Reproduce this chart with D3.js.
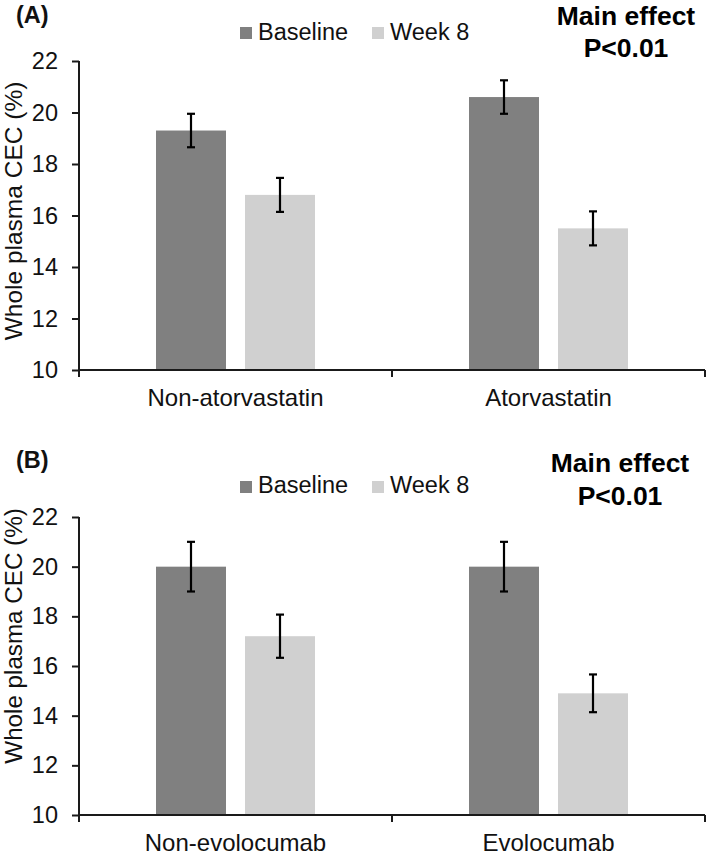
<!DOCTYPE html>
<html>
<head>
<meta charset="utf-8">
<script src="https://cdn.jsdelivr.net/npm/d3@7"></script>
<style>
  html, body { margin: 0; padding: 0; background: #fff; }
  svg { display: block; font-family: "Liberation Sans", Arial, sans-serif; }
</style>
</head>
<body>
<svg id="chart" width="709" height="860"></svg>
<script>
// ---- Data ----
const series = ["Baseline", "Week 8"];
const seriesColors = ["#808080", "#d0d0d0"];
const yTicks = [10, 12, 14, 16, 18, 20, 22];

const categoriesA = ["Non-atorvastatin", "Atorvastatin"];
const baselineA = [19.3, 20.6];
const week8A = [16.8, 15.5];
const baselineErrA = [0.65, 0.65];
const week8ErrA = [0.66, 0.66];

const categoriesB = ["Non-evolocumab", "Evolocumab"];
const baselineB = [20.0, 20.0];
const week8B = [17.2, 14.9];
const baselineErrB = [1.0, 1.0];
const week8ErrB = [0.87, 0.76];

const panelLabels = ["(A)", "(B)"];
const annotation = ["Main effect", "P<0.01"];
const yLabel = "Whole plasma CEC (%)";

// ---- Layout ----
const svg = d3.select("#chart");
const panels = [
  { cats: categoriesA, vals: [baselineA, week8A], errs: [baselineErrA, week8ErrA],
    label: panelLabels[0], top: 61, bottom: 370, labelY: 23, legendY: 27, legendTextY: 40,
    annX: 626, annY1: 25, annY2: 57, yLabelC: 211, yLabelSize: 24.5 },
  { cats: categoriesB, vals: [baselineB, week8B], errs: [baselineErrB, week8ErrB],
    label: panelLabels[1], top: 517, bottom: 815, labelY: 468, legendY: 481, legendTextY: 493,
    annX: 620, annY1: 472, annY2: 505, yLabelC: 636, yLabelSize: 24.2 }
];
const left = 79, right = 705;
const axisColor = "#1a1a1a";

panels.forEach(p => {
  const g = svg.append("g");
  const x = d3.scaleBand().domain(p.cats).range([left, right]).padding(0);
  const inner = d3.scaleBand().domain(series).range([-79.5, 79.5]).paddingInner(0.2135);
  const y = d3.scaleLinear().domain([10, 22]).range([p.bottom, p.top]);

  // bars
  series.forEach((s, si) => {
    const grp = g.append("g");
    grp.selectAll("rect").data(p.cats).join("rect")
      .attr("x", (c) => x(c) + x.bandwidth() / 2 + inner(s))
      .attr("width", inner.bandwidth())
      .attr("y", (c, i) => y(p.vals[si][i]))
      .attr("height", (c, i) => y(10) - y(p.vals[si][i]))
      .attr("fill", seriesColors[si]);
    // error bars
    const cx = (c) => x(c) + x.bandwidth() / 2 + inner(s) + inner.bandwidth() / 2;
    const eb = grp.selectAll("g.err").data(p.cats).join("g").attr("class", "err");
    eb.append("line")
      .attr("x1", cx).attr("x2", cx)
      .attr("y1", (c, i) => y(p.vals[si][i] + p.errs[si][i]))
      .attr("y2", (c, i) => y(p.vals[si][i] - p.errs[si][i]))
      .attr("stroke", "#000").attr("stroke-width", 2.2);
    [1, -1].forEach(sign => {
      eb.append("line")
        .attr("x1", c => cx(c) - 4).attr("x2", c => cx(c) + 4)
        .attr("y1", (c, i) => y(p.vals[si][i] + sign * p.errs[si][i]))
        .attr("y2", (c, i) => y(p.vals[si][i] + sign * p.errs[si][i]))
        .attr("stroke", "#000").attr("stroke-width", 2.2);
    });
  });

  // y axis
  const yAxis = g.append("g").attr("transform", `translate(${left},0)`)
    .call(d3.axisLeft(y).tickValues(yTicks).tickSize(7).tickPadding(14).tickSizeOuter(0));
  yAxis.select(".domain").attr("stroke", axisColor).attr("stroke-width", 2)
    .attr("d", `M0,${p.top}V${p.bottom + 7}`);
  yAxis.selectAll(".tick line").attr("stroke", axisColor).attr("stroke-width", 2);
  yAxis.selectAll(".tick text").attr("font-size", 23.5).attr("fill", "#111")
    .attr("font-family", "Liberation Sans, Arial, sans-serif");

  // x axis
  const xAxis = g.append("g").attr("transform", `translate(0,${p.bottom})`)
    .call(d3.axisBottom(x).tickSize(0).tickPadding(19));
  xAxis.select(".domain").attr("stroke", axisColor).attr("stroke-width", 2)
    .attr("d", `M${left},0H${right}`);
  xAxis.selectAll(".tick text").attr("font-size", 24).attr("fill", "#111")
    .attr("font-family", "Liberation Sans, Arial, sans-serif");
  const bounds = p.cats.map(c => x(c) + x.bandwidth());
  xAxis.selectAll("line.sep").data(bounds).join("line").attr("class", "sep")
    .attr("x1", d => d).attr("x2", d => d).attr("y1", 0).attr("y2", 7)
    .attr("stroke", axisColor).attr("stroke-width", 2);

  // y label
  g.append("text")
    .attr("transform", `translate(22,${p.yLabelC}) rotate(-90)`)
    .attr("text-anchor", "middle").attr("font-size", p.yLabelSize).attr("fill", "#111")
    .text(yLabel);

  // panel label
  g.append("text").attr("x", 16).attr("y", p.labelY)
    .attr("font-size", 23.5).attr("font-weight", "bold").attr("fill", "#111")
    .text(p.label);

  // legend
  const legX = [240, 372];
  series.forEach((s, si) => {
    g.append("rect").attr("x", legX[si]).attr("y", p.legendY).attr("width", 12).attr("height", 12)
      .attr("fill", seriesColors[si]);
    g.append("text").attr("x", legX[si] + 18).attr("y", p.legendTextY)
      .attr("font-size", 23.5).attr("fill", "#111").text(s);
  });

  // annotation
  g.append("text").attr("x", p.annX).attr("y", p.annY1).attr("text-anchor", "middle")
    .attr("font-size", 26.5).attr("font-weight", "bold").attr("fill", "#000").text(annotation[0]);
  g.append("text").attr("x", p.annX).attr("y", p.annY2).attr("text-anchor", "middle")
    .attr("font-size", 26.5).attr("font-weight", "bold").attr("fill", "#000").text(annotation[1]);
});
</script>
</body>
</html>
